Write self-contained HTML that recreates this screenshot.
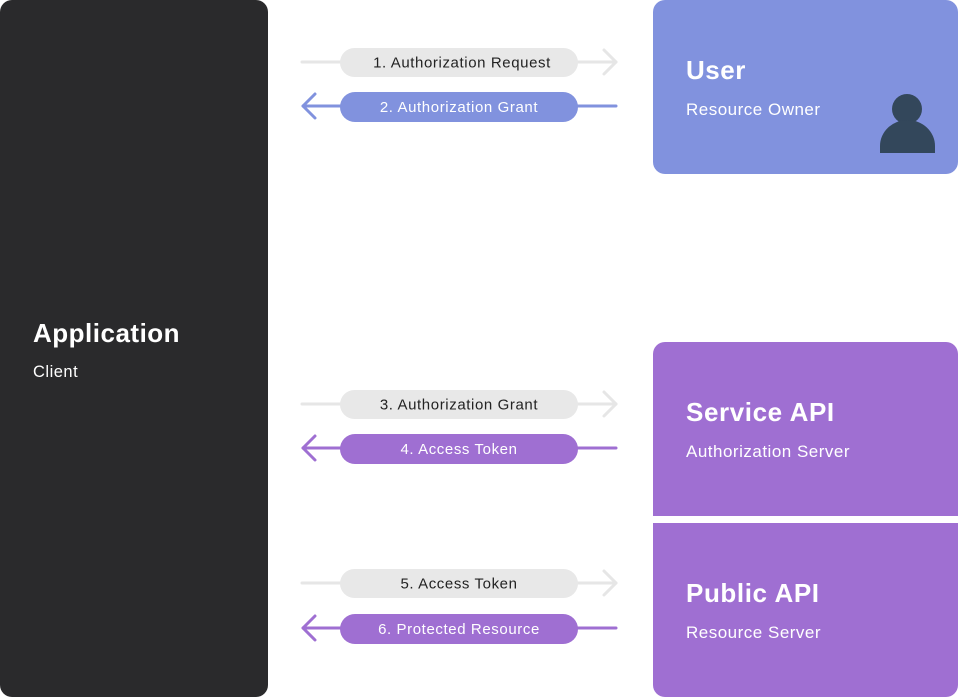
<!DOCTYPE html>
<html><head><meta charset="utf-8"><style>
html,body{margin:0;padding:0;background:#fff;}
svg{display:block;font-family:"Liberation Sans",sans-serif;}
</style></head><body>
<svg width="958" height="697" viewBox="0 0 958 697" xmlns="http://www.w3.org/2000/svg">
<rect x="0" y="0" width="268" height="697" rx="12" fill="#2a2a2c"/>
<text x="33" y="342" font-size="26" font-weight="bold" fill="#fff" letter-spacing="0.5">Application</text>
<text x="33" y="377" font-size="16.5" fill="#fff" letter-spacing="0.5">Client</text>

<rect x="653" y="0" width="305" height="174" rx="12" fill="#8192de"/>
<text x="686" y="79" font-size="26" font-weight="bold" fill="#fff" letter-spacing="0.5">User</text>
<text x="686" y="115" font-size="17" fill="#fff" letter-spacing="0.5">Resource Owner</text>
<circle cx="907" cy="109" r="15" fill="#33475b"/>
<path d="M880 153 L880 146 A27.5 26 0 0 1 935 146 L935 153 Z" fill="#33475b"/>

<path d="M653 354 A12 12 0 0 1 665 342 L946 342 A12 12 0 0 1 958 354 L958 516 L653 516 Z" fill="#9f6fd2"/>
<text x="686" y="421" font-size="26" font-weight="bold" fill="#fff" letter-spacing="0.6">Service API</text>
<text x="686" y="457" font-size="17" fill="#fff" letter-spacing="0.5">Authorization Server</text>
<path d="M653 523 L958 523 L958 685 A12 12 0 0 1 946 697 L665 697 A12 12 0 0 1 653 685 Z" fill="#9f6fd2"/>
<text x="686" y="602" font-size="26" font-weight="bold" fill="#fff" letter-spacing="0.6">Public API</text>
<text x="686" y="638" font-size="17" fill="#fff" letter-spacing="0.5">Resource Server</text>

<g stroke-width="3" fill="none" stroke-linecap="round" stroke-linejoin="round">
<g stroke="#e6e6e6">
<line x1="302" y1="62" x2="616" y2="62"/><polyline points="604,50 616,62 604,74"/>
<line x1="302" y1="404" x2="616" y2="404"/><polyline points="604,392 616,404 604,416"/>
<line x1="302" y1="583" x2="616" y2="583"/><polyline points="604,571 616,583 604,595"/>
</g>
<g stroke="#8192de"><line x1="303" y1="106" x2="616" y2="106"/><polyline points="315,94 303,106 315,118"/></g>
<g stroke="#9f6fd2"><line x1="303" y1="448" x2="616" y2="448"/><polyline points="315,436 303,448 315,460"/>
<line x1="303" y1="628" x2="616" y2="628"/><polyline points="315,616 303,628 315,640"/></g>
</g>
<g font-size="15" text-anchor="middle" letter-spacing="0.6">
<rect x="340" y="48" width="238" height="29" rx="14.5" fill="#e8e8e8"/><text x="462" y="67.5" fill="#222">1. Authorization Request</text>
<rect x="340" y="92" width="238" height="30" rx="15" fill="#8192de"/><text x="459" y="112" fill="#fff">2. Authorization Grant</text>
<rect x="340" y="390" width="238" height="29" rx="14.5" fill="#e8e8e8"/><text x="459" y="409.5" fill="#222">3. Authorization Grant</text>
<rect x="340" y="434" width="238" height="30" rx="15" fill="#9f6fd2"/><text x="459" y="454" fill="#fff">4. Access Token</text>
<rect x="340" y="569" width="238" height="29" rx="14.5" fill="#e8e8e8"/><text x="459" y="588.5" fill="#222">5. Access Token</text>
<rect x="340" y="614" width="238" height="30" rx="15" fill="#9f6fd2"/><text x="459" y="634" fill="#fff">6. Protected Resource</text>
</g>
</svg>
</body></html>
